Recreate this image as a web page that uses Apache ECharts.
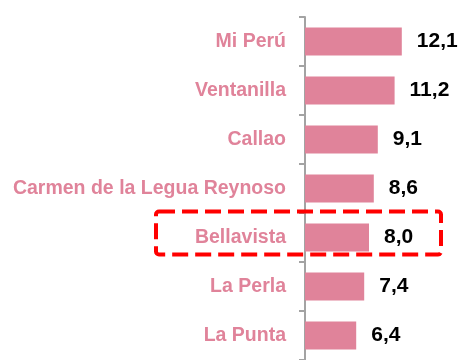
<!DOCTYPE html>
<html>
<head>
<meta charset="utf-8">
<script src="https://cdn.jsdelivr.net/npm/echarts@6/dist/echarts.min.js"></script>
<style>
  html, body { margin: 0; padding: 0; background: #ffffff; }
  #chart { width: 460px; height: 360px; }
</style>
</head>
<body>
<div id="chart"></div>
<script>
// Districts of Callao, top to bottom
const districts = ['Mi Perú', 'Ventanilla', 'Callao', 'Carmen de la Legua Reynoso', 'Bellavista', 'La Perla', 'La Punta'];
const values = [12.1, 11.2, 9.1, 8.6, 8.0, 7.4, 6.4];
const highlighted = 'Bellavista';

const pink = '#e0839a';
const chart = echarts.init(document.getElementById('chart'), null, { renderer: 'canvas' });

chart.setOption({
  animation: false,
  backgroundColor: '#ffffff',
  grid: { left: 305, top: 17, width: 120, height: 351, containLabel: false },
  xAxis: {
    type: 'value', min: 0, max: 15, show: false
  },
  yAxis: {
    type: 'category',
    data: districts,
    inverse: true,
    axisLine: { show: true, lineStyle: { color: '#a3a3a3', width: 2 } },
    axisTick: { show: true, length: 6, lineStyle: { color: '#a3a3a3', width: 2 } },
    axisLabel: {
      margin: 19,
      color: pink,
      fontFamily: 'Liberation Sans, Arial, sans-serif',
      fontWeight: 'bold',
      fontSize: 19.5
    }
  },
  series: [{
    type: 'bar',
    data: values,
    barWidth: 28,
    itemStyle: { color: pink },
    label: {
      show: true,
      position: 'right',
      distance: 15,
      color: '#000000',
      fontFamily: 'Liberation Sans, Arial, sans-serif',
      fontWeight: 'bold',
      fontSize: 21,
      formatter: p => p.value.toFixed(1).replace('.', ',')
    }
  }]
});

// Dashed frame around the highlighted district row
const cy = chart.convertToPixel({ yAxisIndex: 0 }, highlighted);
chart.setOption({
  graphic: [{
    type: 'rect',
    shape: { x: 156, y: cy - 26, width: 285, height: 43, r: 3 },
    style: { fill: 'none', stroke: '#ff0000', lineWidth: 4, lineDash: [16, 7] },
    z: 100
  }]
});
</script>
</body>
</html>
